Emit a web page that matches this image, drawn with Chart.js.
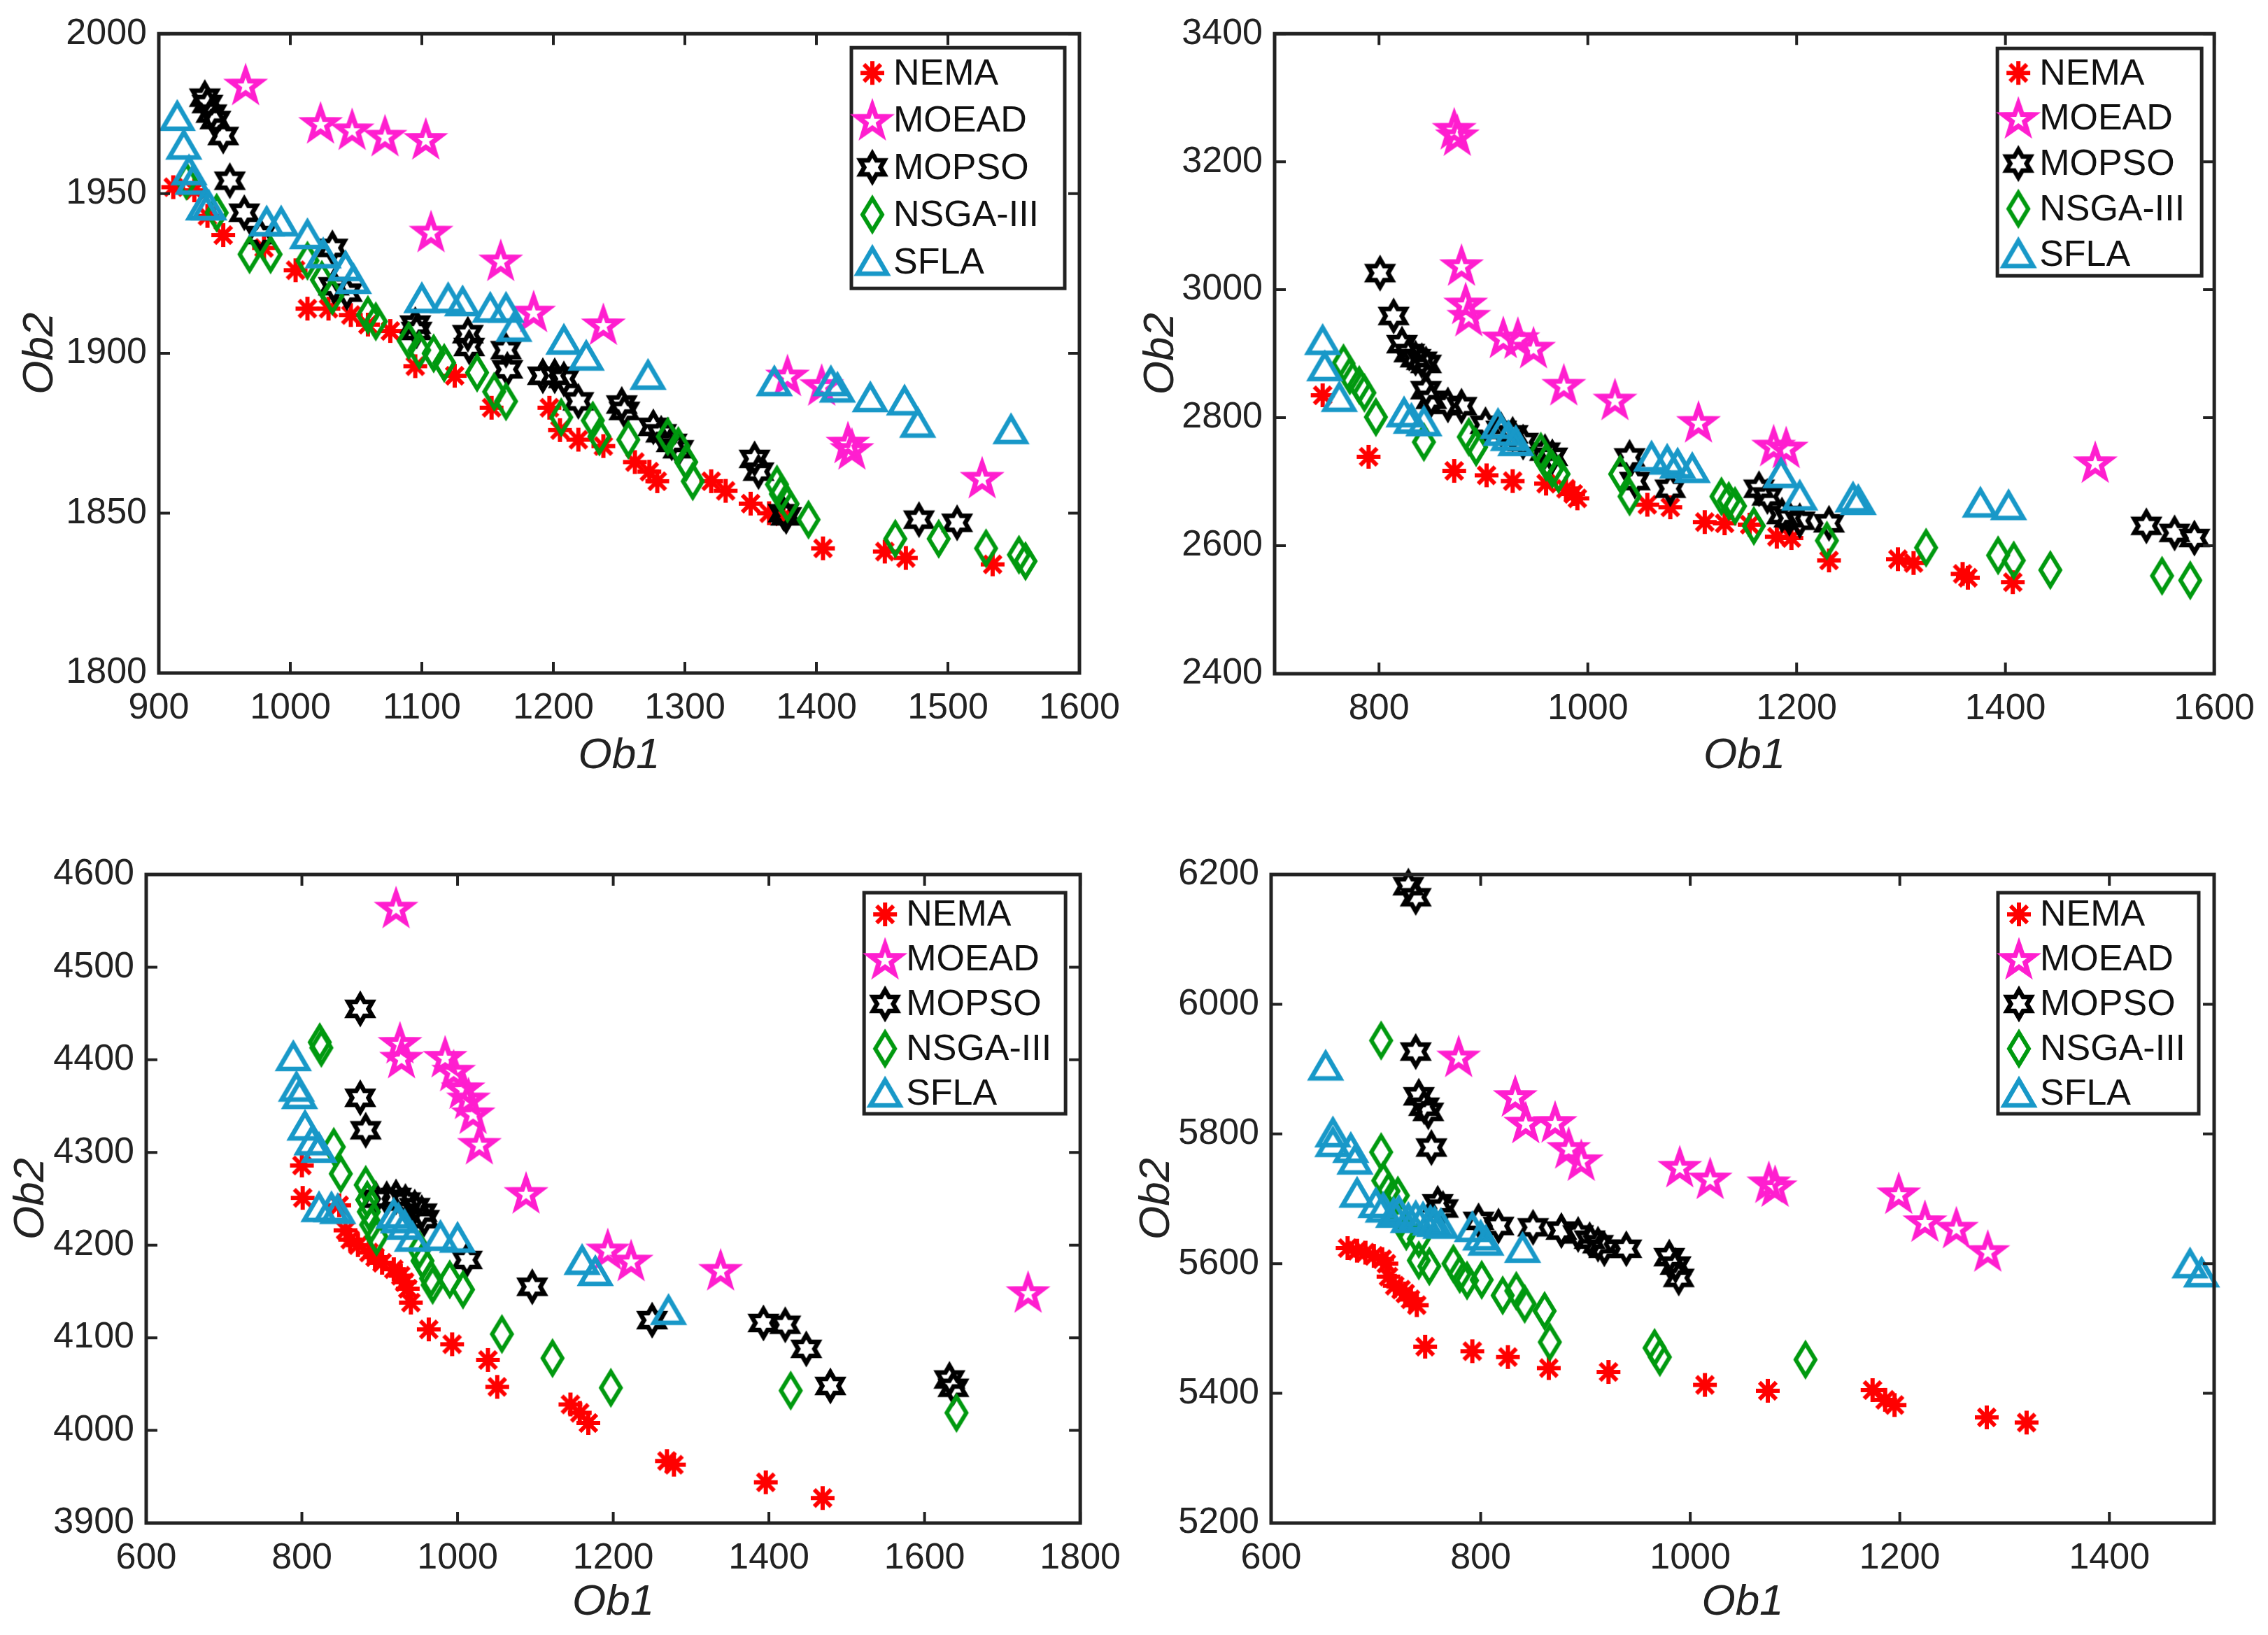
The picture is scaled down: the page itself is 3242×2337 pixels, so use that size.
<!DOCTYPE html>
<html lang="en">
<head>
  <meta charset="UTF-8">
  <title>Ob1 vs Ob2 - NEMA, MOEAD, MOPSO, NSGA-III, SFLA</title>
  <script src="https://cdn.jsdelivr.net/npm/chart.js"></script>
  <style>
    html, body { margin: 0; padding: 0; background: #fff; }
    #page { position: relative; width: 3242px; height: 2337px; background: #fff; overflow: hidden; }
    canvas { position: absolute; display: block; }
  </style>
</head>
<body>
<div id="page">
  <canvas id="pa" width="1621" height="1168" style="left:0;top:0"></canvas>
  <canvas id="pb" width="1621" height="1168" style="left:1621px;top:0"></canvas>
  <canvas id="pc" width="1621" height="1169" style="left:0;top:1168px"></canvas>
  <canvas id="pd" width="1621" height="1169" style="left:1621px;top:1168px"></canvas>
</div>
<script>
  const seriesNames = ['NEMA', 'MOEAD', 'MOPSO', 'NSGA-III', 'SFLA'];

  // panel a (top left)
  const aXRange = [900, 1600], aYRange = [1800, 2000];
  const aXTicks = [900, 1000, 1100, 1200, 1300, 1400, 1500, 1600];
  const aYTicks = [1800, 1850, 1900, 1950, 2000];
  const aNema = [[911,1952],[927,1951],[937,1943],[949,1937],[980,1933],[1004,1926],[1013,1914],[1029,1914],[1046,1912],[1059,1909],[1076,1907],[1095,1896],[1125,1893],[1153,1883],[1197,1883],[1205,1876],[1219,1873],[1238,1871],[1262,1866],[1273,1863],[1279,1860],[1320,1860],[1331,1857],[1350,1853],[1364,1850],[1375,1849],[1405,1839],[1452,1838],[1468,1836],[1534,1834]];
  const aMoead = [[966,1984],[1023,1972],[1047,1970],[1072,1968],[1103,1967],[1107,1938],[1160,1929],[1185,1913],[1238,1909],[1378,1893],[1404,1890],[1424,1872],[1427,1870],[1526,1861]];
  const aMopso = [[935,1980],[937,1978],[940,1975],[943,1973],[949,1968],[954,1954],[965,1944],[977,1937],[1032,1933],[1033,1921],[1043,1919],[1095,1909],[1096,1907],[1135,1906],[1136,1902],[1164,1901],[1165,1895],[1192,1893],[1201,1893],[1208,1892],[1219,1885],[1252,1884],[1254,1882],[1276,1877],[1282,1875],[1290,1872],[1295,1870],[1353,1867],[1356,1863],[1375,1850],[1377,1849],[1478,1848],[1507,1847]];
  const aNsga = [[921,1954],[944,1944],[969,1931],[985,1931],[1013,1929],[1024,1923],[1032,1918],[1059,1912],[1065,1910],[1090,1904],[1098,1901],[1109,1900],[1117,1897],[1142,1894],[1155,1888],[1164,1885],[1206,1880],[1230,1879],[1235,1874],[1257,1873],[1287,1874],[1295,1871],[1301,1866],[1306,1860],[1370,1859],[1373,1856],[1378,1853],[1394,1848],[1460,1842],[1493,1842],[1529,1839],[1554,1837],[1559,1835]];
  const aSfla = [[914,1974],[919,1965],[923,1957],[926,1954],[934,1946],[938,1946],[982,1941],[993,1941],[1013,1937],[1025,1931],[1042,1927],[1048,1923],[1100,1917],[1120,1917],[1131,1916],[1152,1914],[1164,1914],[1170,1908],[1208,1904],[1225,1899],[1272,1893],[1368,1891],[1411,1891],[1416,1889],[1441,1886],[1467,1885],[1477,1878],[1548,1876]];

  // panel b (top right)
  const bXRange = [700, 1600], bYRange = [2400, 3400];
  const bXTicks = [800, 1000, 1200, 1400, 1600];
  const bYTicks = [2400, 2600, 2800, 3000, 3200, 3400];
  const bNema = [[746,2835],[790,2739],[872,2717],[903,2710],[928,2701],[960,2697],[979,2689],[986,2681],[990,2674],[1057,2664],[1079,2660],[1112,2637],[1131,2635],[1155,2633],[1181,2614],[1195,2612],[1231,2577],[1297,2579],[1312,2573],[1359,2556],[1364,2550],[1407,2543]];
  const bMoead = [[872,3251],[875,3241],[879,3038],[883,2978],[886,2959],[919,2925],[933,2924],[948,2909],[977,2851],[1026,2828],[1106,2793],[1178,2756],[1190,2753],[1486,2730]];
  const bMopso = [[801,3026],[814,2959],[822,2915],[829,2901],[835,2893],[841,2889],[845,2884],[845,2843],[850,2828],[866,2820],[879,2818],[902,2789],[917,2781],[928,2774],[938,2762],[959,2747],[966,2739],[1040,2738],[1045,2701],[1079,2689],[1164,2689],[1172,2677],[1186,2648],[1193,2643],[1203,2639],[1231,2635],[1535,2631],[1562,2620],[1581,2612]];
  const bNsga = [[766,2885],[772,2866],[781,2851],[786,2839],[797,2801],[843,2762],[886,2770],[893,2754],[955,2747],[960,2731],[966,2720],[972,2712],[1031,2712],[1040,2677],[1128,2677],[1135,2670],[1141,2662],[1159,2631],[1229,2608],[1324,2597],[1393,2585],[1408,2577],[1443,2562],[1550,2553],[1577,2546]];
  const bSfla = [[746,2920],[748,2879],[762,2831],[824,2807],[831,2797],[843,2793],[914,2789],[917,2778],[924,2770],[931,2762],[1061,2738],[1076,2733],[1086,2727],[1100,2720],[1185,2712],[1203,2677],[1254,2674],[1259,2670],[1376,2666],[1403,2662]];

  // panel c (bottom left)
  const cXRange = [600, 1800], cYRange = [3900, 4600];
  const cXTicks = [600, 800, 1000, 1200, 1400, 1600, 1800];
  const cYTicks = [3900, 4000, 4100, 4200, 4300, 4400, 4500, 4600];
  const cNema = [[800,4286],[801,4251],[848,4243],[856,4216],[862,4206],[872,4200],[886,4192],[894,4187],[903,4181],[918,4174],[927,4167],[932,4160],[936,4153],[940,4138],[963,4109],[993,4093],[1039,4076],[1051,4047],[1145,4028],[1157,4019],[1168,4008],[1269,3967],[1278,3963],[1396,3944],[1469,3927]];
  const cMoead = [[921,4564],[926,4418],[928,4402],[984,4403],[995,4388],[1007,4369],[1014,4358],[1020,4342],[1028,4309],[1088,4256],[1193,4195],[1223,4183],[1338,4173],[1733,4149]];
  const cMopso = [[875,4455],[875,4359],[882,4324],[895,4250],[909,4250],[921,4252],[933,4247],[945,4241],[954,4235],[957,4228],[1012,4184],[1096,4155],[1250,4119],[1393,4116],[1421,4114],[1448,4088],[1479,4048],[1632,4055],[1637,4046]];
  const cNsga = [[823,4419],[825,4413],[841,4306],[850,4277],[882,4265],[884,4249],[886,4236],[889,4222],[896,4209],[951,4195],[955,4183],[966,4164],[968,4157],[990,4163],[1007,4152],[1057,4104],[1122,4078],[1197,4046],[1428,4043],[1641,4019]];
  const cSfla = [[789,4403],[793,4370],[797,4362],[804,4328],[813,4312],[822,4304],[822,4240],[838,4240],[846,4238],[918,4233],[924,4228],[932,4221],[942,4208],[978,4209],[1000,4207],[1160,4183],[1177,4171],[1271,4129]];

  // panel d (bottom right)
  const dXRange = [600, 1500], dYRange = [5200, 6200];
  const dXTicks = [600, 800, 1000, 1200, 1400];
  const dYTicks = [5200, 5400, 5600, 5800, 6000, 6200];
  const dNema = [[673,5624],[682,5620],[690,5617],[698,5612],[706,5607],[710,5600],[712,5580],[718,5566],[724,5560],[728,5554],[733,5545],[739,5536],[747,5472],[792,5465],[826,5456],[865,5439],[922,5433],[1014,5413],[1074,5404],[1174,5405],[1186,5390],[1195,5382],[1283,5363],[1321,5355]];
  const dMoead = [[779,5919],[833,5858],[843,5817],[871,5818],[884,5778],[896,5759],[990,5749],[1019,5731],[1075,5725],[1081,5719],[1199,5708],[1224,5665],[1254,5655],[1284,5619]];
  const dMopso = [[731,6182],[738,6165],[738,5927],[741,5858],[746,5842],[750,5834],[753,5779],[759,5693],[764,5685],[798,5666],[817,5658],[850,5656],[877,5651],[893,5645],[904,5637],[912,5630],[918,5623],[939,5623],[980,5610],[986,5597],[989,5578]];
  const dNsga = [[705,5944],[705,5772],[707,5728],[712,5712],[721,5705],[724,5668],[729,5650],[741,5638],[741,5605],[751,5596],[774,5600],[780,5584],[787,5574],[801,5575],[821,5551],[834,5558],[842,5538],[861,5527],[866,5479],[966,5470],[971,5456],[1110,5452]];
  const dSfla = [[652,5904],[659,5801],[659,5786],[676,5777],[680,5759],[682,5708],[700,5692],[707,5685],[717,5677],[722,5680],[731,5669],[738,5672],[745,5670],[752,5665],[756,5663],[762,5660],[792,5655],[800,5642],[805,5634],[840,5623],[1477,5599],[1488,5585]];

  const seriesColors = ['#ff0000', '#ff1ecf', '#000000', '#00990f', '#1898c8'];
  const seriesKinds = ['asterisk', 'pentagram', 'hexagram', 'diamond', 'triangle'];
  const face = '"Liberation Sans", Arial, "DejaVu Sans", sans-serif';
  const inkColor = '#222222';

  function starPath(g, n, R, r) {
    for (let i = 0; i < 2 * n; i++) {
      const ang = -Math.PI / 2 + i * Math.PI / n;
      const rad = i % 2 === 0 ? R : r;
      const px = rad * Math.cos(ang), py = rad * Math.sin(ang);
      if (i === 0) g.moveTo(px, py); else g.lineTo(px, py);
    }
    g.closePath();
  }

  // MATLAB-like marker glyphs as small canvases used as pointStyle
  function makeMarker(kind, color) {
    const S = 72;
    const c = document.createElement('canvas');
    c.width = S; c.height = S;
    const g = c.getContext('2d');
    g.translate(S / 2, S / 2);
    g.strokeStyle = color;
    g.lineJoin = 'miter';
    g.lineWidth = 6;
    g.beginPath();
    if (kind === 'asterisk') {
      g.lineWidth = 6;
      for (let i = 0; i < 4; i++) {
        const a = i * Math.PI / 4;
        g.moveTo(-17 * Math.cos(a), -17 * Math.sin(a));
        g.lineTo(17 * Math.cos(a), 17 * Math.sin(a));
      }
    } else if (kind === 'pentagram') {
      g.lineWidth = 7;
      g.translate(0, 2);
      starPath(g, 5, 23, 23 * 0.4);
    } else if (kind === 'hexagram') {
      g.lineWidth = 6.5;
      starPath(g, 6, 20, 20 / Math.sqrt(3));
    } else if (kind === 'diamond') {
      g.moveTo(0, -23); g.lineTo(14, 0); g.lineTo(0, 23); g.lineTo(-14, 0);
      g.closePath();
    } else {
      g.lineWidth = 6.5;
      g.moveTo(0, -19); g.lineTo(21, 17); g.lineTo(-21, 17);
      g.closePath();
    }
    g.stroke();
    return c;
  }

  // box, inward ticks on all four sides, and boxed legend inside the axes
  const framePlugin = {
    id: 'frame',
    afterDatasetsDraw(chart, args, opts) {
      const { ctx, chartArea: a } = chart;
      const xs = chart.scales.x, ys = chart.scales.y;
      const tl = 16;
      ctx.save();
      ctx.strokeStyle = inkColor;
      ctx.lineWidth = 4;
      ctx.beginPath();
      xs.ticks.forEach(t => {
        const px = xs.getPixelForValue(t.value);
        ctx.moveTo(px, a.bottom); ctx.lineTo(px, a.bottom - tl);
        ctx.moveTo(px, a.top); ctx.lineTo(px, a.top + tl);
      });
      ys.ticks.forEach(t => {
        const py = ys.getPixelForValue(t.value);
        ctx.moveTo(a.left, py); ctx.lineTo(a.left + tl, py);
        ctx.moveTo(a.right, py); ctx.lineTo(a.right - tl, py);
      });
      ctx.stroke();
      ctx.lineWidth = 5;
      ctx.strokeRect(a.left, a.top, a.right - a.left, a.bottom - a.top);

      const L = opts;
      const x0 = a.right - L.right - L.w, y0 = a.top + L.top;
      ctx.fillStyle = '#ffffff';
      ctx.fillRect(x0, y0, L.w, L.h);
      ctx.lineWidth = 5;
      ctx.strokeRect(x0, y0, L.w, L.h);
      ctx.font = '52px ' + face;
      ctx.fillStyle = '#111111';
      ctx.textBaseline = 'middle';
      ctx.textAlign = 'left';
      chart.data.datasets.slice().sort((p, q) => p.idx - q.idx).forEach((ds, i) => {
        const cy = y0 + L.first + i * L.row;
        const m = ds.pointStyle;
        ctx.drawImage(m, x0 + 30 - m.width / 2, cy - m.height / 2);
        ctx.fillText(ds.label, x0 + 60, cy + 2);
      });
      ctx.restore();
    }
  };

  function makePanel(id, series, xr, yr, xt, yt, lay, markers) {
    const datasets = series.map((pts, i) => ({
      label: seriesNames[i],
      idx: i,
      data: pts,
      pointStyle: markers[i],
      pointRadius: 12,
      pointHoverRadius: 12,
      order: series.length - 1 - i,
      clip: false
    }));
    const tickFont = { family: face, size: 52, lineHeight: 1.2 };
    const titleFont = { family: face, size: 62, style: 'italic', lineHeight: 1 };
    const plain = v => String(v);
    return new Chart(document.getElementById(id), {
      type: 'scatter',
      data: { datasets },
      options: {
        responsive: false,
        animation: false,
        devicePixelRatio: 1,
        events: [],
        layout: { padding: { top: lay.top, right: lay.right, left: 0, bottom: 0 } },
        plugins: {
          legend: { display: false },
          tooltip: { enabled: false },
          frame: lay.legend
        },
        scales: {
          x: {
            type: 'linear',
            min: xr[0], max: xr[1],
            afterBuildTicks: s => { s.ticks = xt.map(v => ({ value: v })); },
            afterFit: s => { s.height = lay.xh; },
            grid: { display: false, drawTicks: false },
            border: { display: false },
            ticks: { font: tickFont, color: inkColor, padding: 19, maxRotation: 0, autoSkip: false, callback: plain },
            title: { display: true, text: 'Ob1', font: titleFont, color: inkColor, padding: { top: 0, bottom: lay.xtitle } }
          },
          y: {
            type: 'linear',
            min: yr[0], max: yr[1],
            afterBuildTicks: s => { s.ticks = yt.map(v => ({ value: v })); },
            afterFit: s => { s.width = lay.yw; },
            grid: { display: false, drawTicks: false },
            border: { display: false },
            ticks: { font: tickFont, color: inkColor, padding: 17, autoSkip: false, callback: plain },
            title: { display: true, text: 'Ob2', font: titleFont, color: inkColor, padding: { top: lay.ytitle, bottom: 0 } }
          }
        }
      },
      plugins: [framePlugin]
    });
  }

  const markers = seriesKinds.map((k, i) => makeMarker(k, seriesColors[i]));
  makePanel('pa', [aNema, aMoead, aMopso, aNsga, aSfla], aXRange, aYRange, aXTicks, aYTicks,
    { top: 37, right: 78, yw: 227, xh: 206, xtitle: 56, ytitle: 27,
      legend: { right: 21, top: 20, w: 305, h: 344, first: 36, row: 67.5 } }, markers);
  makePanel('pb', [bNema, bMoead, bMopso, bNsga, bSfla], bXRange, bYRange, bXTicks, bYTicks,
    { top: 37, right: 74, yw: 201, xh: 205, xtitle: 56, ytitle: 8,
      legend: { right: 18, top: 21, w: 292, h: 325, first: 35, row: 64.75 } }, markers);
  makePanel('pc', [cNema, cMoead, cMopso, cNsga, cSfla], cXRange, cYRange, cXTicks, cYTicks,
    { top: 82, right: 63, yw: 209, xh: 160, xtitle: 15, ytitle: 14,
      legend: { right: 21, top: 26, w: 288, h: 316, first: 31, row: 64 } }, markers);
  makePanel('pd', [dNema, dMoead, dMopso, dNsga, dSfla], dXRange, dYRange, dXTicks, dYTicks,
    { top: 82, right: 77, yw: 196, xh: 160, xtitle: 15, ytitle: 2,
      legend: { right: 22, top: 26, w: 287, h: 316, first: 31, row: 64 } }, markers);
</script>
</body>
</html>
